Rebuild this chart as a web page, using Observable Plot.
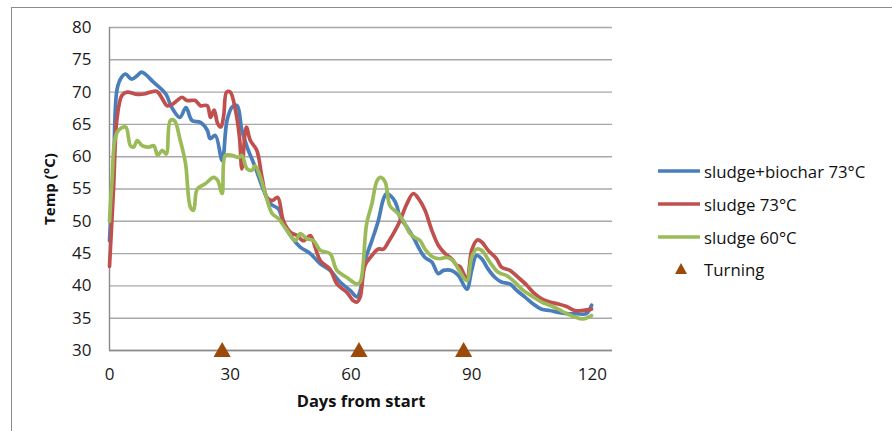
<!DOCTYPE html>
<html>
<head>
<meta charset="utf-8">
<script src="https://cdn.jsdelivr.net/npm/d3@7"></script>
<script src="https://cdn.jsdelivr.net/npm/@observablehq/plot@0.6"></script>
<style>
  html, body { margin: 0; padding: 0; }
  body { width: 892px; height: 431px; overflow: hidden; background: #fff; position: relative; font-family: "Open Sans", sans-serif; }
  #frame { position: absolute; left: 11px; top: 7px; width: 920px; height: 520px; border: 1.4px solid #8c8c8c; box-sizing: border-box; }
  #chart { position: absolute; left: 0; top: 0; }
  .row { position: absolute; left: 656px; height: 24px; display: flex; align-items: center; font-size: 16.8px; color: #111; white-space: nowrap; }
  .row svg { display: block; }
  .row span { margin-left: 2px; }
</style>
</head>
<body>
<div id="frame"></div>
<div id="chart"></div>
<div id="legend"></div>
<script>
// ---- data (day, temperature °C) ----
const seriesNames = ["sludge+biochar 73°C", "sludge 73°C", "sludge 60°C"];
const seriesColors = ["#4a7ebb", "#c0504d", "#9bbb59"];
const turningLabel = "Turning";
const turningColor = "#9c4a0a";

const biochar73 = [[0,47],[1,58],[1.9,70.5],[3,72.3],[4,72.8],[5.5,72.0],[7,72.6],[8,73.1],[11,71.5],[14,69.7],[15.4,67.7],[17.5,66.1],[19,67.6],[20.5,65.6],[22.6,65.3],[24.3,64.1],[25,62.8],[26.3,63.3],[28,59.4],[29.2,65.6],[30.5,67.7],[31.7,67.9],[32.9,64.1],[34.2,61.5],[36.2,58.4],[38.3,54.8],[40,52.7],[42,51.9],[43.3,49.6],[45.3,47.5],[47.4,46.0],[49.9,45.0],[52.4,43.4],[54.8,42.4],[57.3,40.6],[59.8,39.3],[61.5,38.3],[62.3,39.3],[63.5,43.9],[65.2,47.0],[66.8,50.1],[68.1,53.5],[68.9,54.3],[70.5,53.5],[71.4,52.4],[72.2,50.6],[73.9,49.1],[75.5,47.5],[77.2,45.5],[78.4,44.4],[80.1,43.7],[81.7,41.9],[83,42.4],[85,42.4],[86.7,41.6],[88.8,39.5],[90,42.4],[91.2,44.7],[92.5,44.2],[94.1,42.6],[95.8,41.3],[97.4,40.6],[99.5,40.3],[101.2,39.3],[103.2,38.3],[105.3,37.2],[107.4,36.4],[109.4,36.2],[111.5,35.9],[113.6,35.7],[116,35.7],[118.5,35.7],[119.8,37.0]];

const sludge73 = [[0,43],[1,55],[1.9,66.1],[3.1,69.5],[4.4,70.0],[6.5,69.7],[8.5,69.7],[10.2,70.0],[11.8,70.1],[13.1,69.0],[14.3,67.9],[15.6,68.1],[16.8,68.7],[18,69.2],[19.3,68.7],[21.3,68.7],[22.6,67.9],[24.3,67.9],[25.1,66.1],[26,67.2],[26.9,65.1],[27.7,64.6],[28.4,66.5],[29.1,70.0],[30,70.0],[31.3,67.2],[32.3,63.0],[32.9,58.1],[34,64.6],[35,62.5],[36.6,61.0],[37.9,56.8],[39.1,53.7],[40.4,53.2],[41.8,53.7],[43.2,50.1],[45,48.3],[46.6,47.8],[48.2,47.0],[49.9,47.8],[51.1,46.0],[52.4,43.9],[54.8,42.6],[56.5,40.3],[59,39.0],[60.6,37.7],[61.5,37.5],[62.3,38.3],[63.5,43.2],[65.2,44.7],[66.8,45.7],[68.1,45.7],[69.3,46.8],[71,48.6],[72.2,50.1],[73.9,52.7],[75.5,54.3],[76.8,53.5],[78.4,51.7],[80.1,48.6],[81.7,46.3],[83.4,45.0],[85,44.2],[86.3,43.2],[87.1,43.0],[88.8,41.1],[90,45.5],[91.4,47.1],[92.5,46.8],[94.1,45.5],[96.2,44.2],[97.4,42.9],[99.5,42.4],[101.6,41.3],[103.7,40.1],[105.3,39.0],[107.4,38.0],[109.4,37.5],[111.5,37.2],[113.6,36.8],[115.6,36.2],[117.7,36.2],[119.8,36.4]];

const sludge60 = [[0,50],[0.6,56],[1.9,63.8],[4,64.6],[5.2,61.7],[6,61.5],[6.9,62.5],[8.1,61.7],[9.8,61.5],[11,61.7],[12,60.2],[13.1,61.0],[14.1,60.4],[15.1,65.6],[16.1,65.6],[17.6,62.5],[18.9,58.9],[20.1,52.2],[20.9,51.7],[21.8,55.0],[23.8,55.8],[25.9,56.8],[26.9,56.3],[28,54.3],[28.8,60.2],[30.4,60.2],[32.1,59.9],[32.9,60.2],[34.2,58.1],[35.4,57.9],[36.2,58.6],[37.5,56.8],[38.7,54.3],[40.4,51.2],[42,50.4],[44.1,48.6],[46.2,47.0],[47.4,48.1],[49,47.3],[50.7,47.0],[52.4,45.5],[54.8,45.0],[56.5,42.4],[59,41.3],[61.5,40.3],[62.3,40.6],[63.9,49.6],[65.2,52.7],[66.5,56.3],[67.4,56.8],[68.5,56.1],[69.7,52.4],[71.4,51.4],[73,50.1],[74.7,48.1],[75.9,47.5],[77.2,47.0],[78.4,45.7],[80.5,44.4],[82.1,44.2],[83.8,44.4],[85.4,43.9],[86.7,42.6],[88.8,40.8],[90,44.4],[91.2,45.7],[92.5,45.5],[94.5,43.7],[96.6,42.1],[98.7,41.6],[100.7,40.6],[102.8,39.3],[105.3,38.3],[107.4,37.5],[109.4,37.0],[111.5,36.4],[113.6,35.7],[115.6,35.2],[117.7,34.9],[119.8,35.4]];

const turningDays = [28, 62, 88];
const turningLevel = 30;

const xTicks = [0, 30, 60, 90, 120];
const yTicks = [30, 35, 40, 45, 50, 55, 60, 65, 70, 75, 80];
const xDomain = [0, 125];
const yDomain = [30, 80];
const xTitle = "Days from start";
const yTitle = "Temp (°C)";

// ---- build table ----
const seriesData = [biochar73, sludge73, sludge60];
const rows = seriesData.flatMap((pts, i) => pts.map(([day, temp]) => ({series: seriesNames[i], day, temp})));

const chart = Plot.plot({
  width: 892,
  height: 431,
  marginLeft: 109,
  marginRight: 280,
  marginTop: 27,
  marginBottom: 81,
  style: {fontFamily: "'Open Sans', sans-serif", fontSize: "17px", color: "#1a1a1a", background: "transparent", overflow: "visible"},
  x: {domain: xDomain},
  y: {domain: yDomain},
  color: {domain: seriesNames, range: seriesColors},
  marks: [
    Plot.gridY(yTicks, {stroke: "#a8a8a8", strokeOpacity: 1, strokeWidth: 1.4}),
    Plot.ruleX([0], {stroke: "#8a8a8a", strokeWidth: 1.4}),
    Plot.ruleY([30], {stroke: "#8a8a8a", strokeWidth: 1.4}),
    Plot.axisX(xTicks, {tickSize: 0, tickPadding: 17, label: null, fontSize: 17}),
    Plot.axisY(yTicks, {tickSize: 0, tickPadding: 18, label: null, fontSize: 17}),
    Plot.line(rows, {x: "day", y: "temp", z: "series", stroke: "series", strokeWidth: 3.7, curve: "catmull-rom", strokeLinejoin: "round", strokeLinecap: "round"}),
    Plot.dot(turningDays, {x: d => d, y: () => turningLevel, symbol: "triangle", r: 6.4, fill: turningColor, stroke: null, dy: 1.5}),
    Plot.text([xTitle], {frameAnchor: "bottom", lineAnchor: "middle", dy: 51, fontWeight: "bold", fontSize: 16.5, fill: "#111"}),
    Plot.text([yTitle], {frameAnchor: "left", lineAnchor: "middle", textAnchor: "middle", rotate: -90, dx: -59, fontWeight: "bold", fontSize: 15, fill: "#111"})
  ]
});
document.getElementById("chart").appendChild(chart);

// ---- legend ----
const legend = document.getElementById("legend");
const rowYs = [171, 204, 237, 269];
seriesNames.forEach((name, i) => {
  const div = document.createElement("div");
  div.className = "row";
  div.style.top = (rowYs[i] - 12) + "px";
  div.innerHTML = `<svg width="46" height="24"><line x1="2" x2="44" y1="12" y2="12" stroke="${seriesColors[i]}" stroke-width="3.4"/></svg><span>${name}</span>`;
  legend.appendChild(div);
});
{
  const div = document.createElement("div");
  div.className = "row";
  div.style.top = (rowYs[3] - 12) + "px";
  div.innerHTML = `<svg width="46" height="24"><path d="M25,6 L31,17 L19,17 Z" fill="${turningColor}"/></svg><span>${turningLabel}</span>`;
  legend.appendChild(div);
}
</script>
</body>
</html>
